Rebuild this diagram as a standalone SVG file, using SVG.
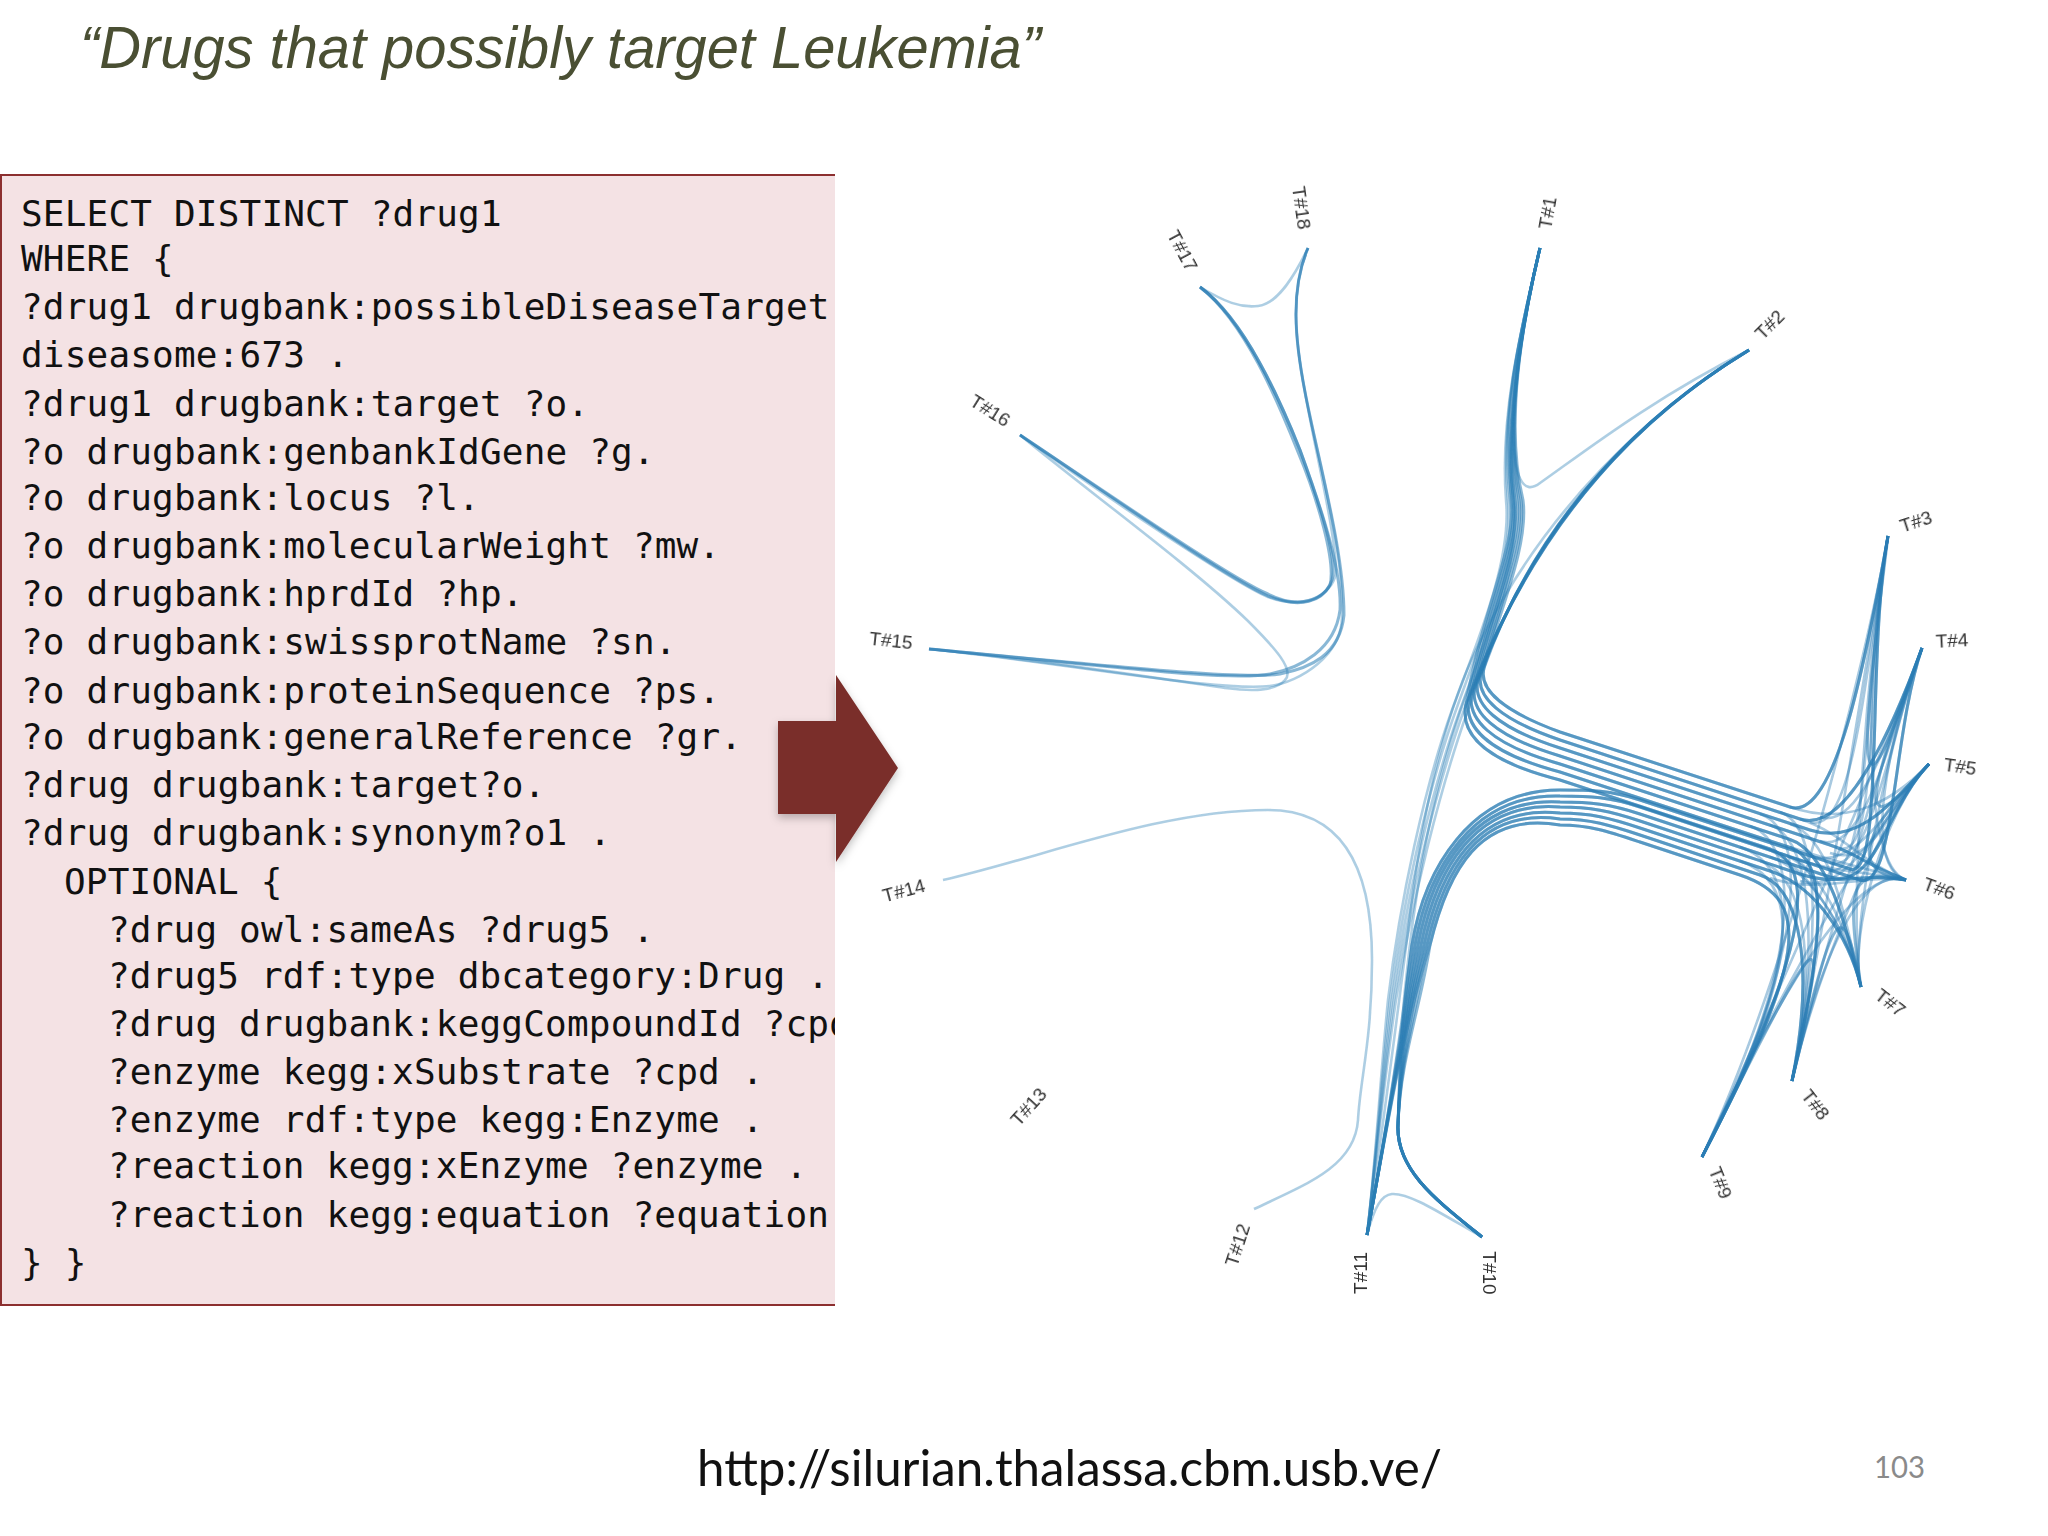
<svg xmlns="http://www.w3.org/2000/svg" width="2048" height="1536" viewBox="0 0 2048 1536">
<style>
text{font-family:"Liberation Sans",Arial,sans-serif}
.q{font-family:"DejaVu Sans Mono","Liberation Mono",monospace;font-size:36px;letter-spacing:.18px;fill:#111}
.lab{font-size:19px;fill:#333;text-anchor:middle}
.e{fill:none;stroke:#2b7db5;stroke-width:3;stroke-opacity:.55}
.l{fill:none;stroke:#2b7db5;stroke-width:2.6;stroke-opacity:.38}
.f{fill:none;stroke:#2b7db5;stroke-width:2.6;stroke-opacity:.42}
</style>
<defs>
<clipPath id="boxclip"><rect x="0" y="175" width="835" height="1130"/></clipPath>
<filter id="sh" x="-10%" y="-10%" width="130%" height="130%"><feDropShadow dx="0" dy="4" stdDeviation="4" flood-color="#000" flood-opacity=".25"/></filter>
<filter id="soft"><feGaussianBlur stdDeviation=".6"/></filter>
</defs>
<rect width="2048" height="1536" fill="#fff"/>
<text id="title" x="80" y="68" font-size="60" font-style="italic" fill="#4a4f33" textLength="961" lengthAdjust="spacingAndGlyphs">“Drugs that possibly target Leukemia”</text>
<g id="query">
<rect x="0" y="175" width="835" height="1130" fill="#f4e2e4"/>
<path d="M835,175H1V1305H835" fill="none" stroke="#8c2f2f" stroke-width="2"/>
<g clip-path="url(#boxclip)">
<text class="q" x="21" y="226">SELECT DISTINCT ?drug1</text>
<text class="q" x="21" y="271">WHERE {</text>
<text class="q" x="21" y="319">?drug1 drugbank:possibleDiseaseTarget</text>
<text class="q" x="21" y="367">diseasome:673 .</text>
<text class="q" x="21" y="416">?drug1 drugbank:target ?o.</text>
<text class="q" x="21" y="464">?o drugbank:genbankIdGene ?g.</text>
<text class="q" x="21" y="510">?o drugbank:locus ?l.</text>
<text class="q" x="21" y="558">?o drugbank:molecularWeight ?mw.</text>
<text class="q" x="21" y="606">?o drugbank:hprdId ?hp.</text>
<text class="q" x="21" y="654">?o drugbank:swissprotName ?sn.</text>
<text class="q" x="21" y="703">?o drugbank:proteinSequence ?ps.</text>
<text class="q" x="21" y="749">?o drugbank:generalReference ?gr.</text>
<text class="q" x="21" y="797">?drug drugbank:target?o.</text>
<text class="q" x="21" y="845">?drug drugbank:synonym?o1 .</text>
<text class="q" x="64" y="894">OPTIONAL {</text>
<text class="q" x="108" y="942">?drug owl:sameAs ?drug5 .</text>
<text class="q" x="108" y="988">?drug5 rdf:type dbcategory:Drug .</text>
<text class="q" x="108" y="1036">?drug drugbank:keggCompoundId ?cpd</text>
<text class="q" x="108" y="1084">?enzyme kegg:xSubstrate ?cpd .</text>
<text class="q" x="108" y="1132">?enzyme rdf:type kegg:Enzyme .</text>
<text class="q" x="108" y="1178">?reaction kegg:xEnzyme ?enzyme .</text>
<text class="q" x="108" y="1227">?reaction kegg:equation ?equation</text>
<text class="q" x="21" y="1275">} }</text>
</g>
</g>
<g id="arrow"><path d="M778,721H836V675L898,768L836,862V814H778Z" fill="#7a2f2c" filter="url(#sh)"/></g>
<g id="connectors" filter="url(#soft)">
<!-- T1 to upper band -->
<path class="e" d="M1540,248C1518,340 1506,430 1523,500C1529,545 1500,610 1484,668C1478,690 1505,712 1560,732L1790,807C1835,822 1866,660 1888,536"/>
<path class="e" d="M1540,248C1518,340 1506,430 1521,500C1527,545 1497,610 1481,674C1475,697 1501,720 1560,740L1800,819C1845,834 1890,735 1922,648"/>
<path class="e" d="M1540,248C1518,340 1506,430 1519,500C1525,545 1494,610 1478,680C1472,704 1497,728 1560,748L1810,830C1855,845 1885,810 1929,764"/>
<path class="e" d="M1540,248C1518,340 1506,430 1517,500C1523,545 1491,610 1475,686C1469,711 1493,736 1560,756L1830,845C1860,855 1860,862 1906,880"/>
<path class="e" d="M1540,248C1518,340 1506,430 1515,500C1521,545 1488,610 1472,692C1466,718 1489,744 1560,764L1790,839.500C1830,853 1848,935 1861,987"/>
<path class="e" d="M1540,248C1518,340 1506,430 1513,500C1519,545 1485,610 1469,698C1463,725 1485,752 1560,772L1790,847.500C1835,862 1818,960 1792,1081"/>
<path class="e" d="M1540,248C1518,340 1506,430 1511,500C1517,545 1482,610 1466,704C1460,732 1481,760 1560,780L1770,849C1820,866 1805,960 1702,1157"/>
<!-- T2 to upper band -->
<path class="e" d="M1749,350C1650,410 1540,510 1484,668C1478,690 1505,712 1560,732L1790,807C1835,822 1866,660 1888,536"/>
<path class="e" d="M1749,350C1650,410 1540,510 1481,674C1475,697 1501,720 1560,740L1800,819C1845,834 1890,735 1922,648"/>
<path class="e" d="M1749,350C1650,410 1540,510 1478,680C1472,704 1497,728 1560,748L1810,830C1855,845 1885,810 1929,764"/>
<path class="e" d="M1749,350C1650,410 1540,510 1475,686C1469,711 1493,736 1560,756L1830,845C1860,855 1860,862 1906,880"/>
<path class="e" d="M1749,350C1650,410 1540,510 1472,692C1466,718 1489,744 1560,764L1790,839.500C1830,853 1848,935 1861,987"/>
<path class="e" d="M1749,350C1650,410 1540,510 1469,698C1463,725 1485,752 1560,772L1790,847.500C1835,862 1818,960 1792,1081"/>
<path class="e" d="M1749,350C1650,410 1540,510 1466,704C1460,732 1481,760 1560,780L1770,849C1820,866 1805,960 1702,1157"/>
<!-- T11 to lower band -->
<path class="e" d="M1367,1235C1385,1140 1400,1040 1412,945C1424,870 1470,790 1560,790C1590,790 1610,790 1640,800L1850,869C1885,880 1866,660 1888,536"/>
<path class="e" d="M1367,1235C1385,1140 1400,1040 1415,945C1428,870 1472,793.500 1560,796C1590,796 1610,797 1640,807L1860,880C1895,891 1892,735 1922,648"/>
<path class="e" d="M1367,1235C1385,1140 1400,1040 1418,945C1432,870 1473,797 1560,802C1590,802 1610,804 1640,814L1830,877C1875,891 1885,810 1929,764"/>
<path class="e" d="M1367,1235C1385,1140 1400,1040 1421,945C1436,870 1475,800 1560,807C1590,807 1610,811 1640,821L1800,874C1840,887 1860,872 1906,880"/>
<path class="e" d="M1367,1235C1385,1140 1400,1040 1424,945C1440,870 1477,804 1560,813C1590,813 1610,818 1640,828L1770,871C1815,886 1848,935 1861,987"/>
<path class="e" d="M1367,1235C1385,1140 1400,1040 1427,945C1444,870 1479,807 1560,819C1590,819 1610,825 1640,835L1760,875C1800,888 1815,965 1792,1081"/>
<path class="e" d="M1367,1235C1385,1140 1400,1040 1430,945C1448,870 1480,811 1560,825C1590,825 1610,832 1640,842L1740,875C1815,900 1805,960 1702,1157"/>
<!-- T10 to lower band -->
<path class="e" d="M1482,1237C1436,1200 1396,1170 1398,1125C1400,1060 1402,1010 1412,945C1424,870 1470,790 1560,790C1590,790 1610,790 1640,800L1850,869C1885,880 1866,660 1888,536"/>
<path class="e" d="M1482,1237C1436,1200 1396,1170 1398,1125C1400,1060 1405,1010 1415,945C1428,870 1472,793.500 1560,796C1590,796 1610,797 1640,807L1860,880C1895,891 1892,735 1922,648"/>
<path class="e" d="M1482,1237C1436,1200 1396,1170 1398,1125C1400,1060 1408,1010 1418,945C1432,870 1473,797 1560,802C1590,802 1610,804 1640,814L1830,877C1875,891 1885,810 1929,764"/>
<path class="e" d="M1482,1237C1436,1200 1396,1170 1398,1125C1400,1060 1411,1010 1421,945C1436,870 1475,800 1560,807C1590,807 1610,811 1640,821L1800,874C1840,887 1860,872 1906,880"/>
<path class="e" d="M1482,1237C1436,1200 1396,1170 1398,1125C1400,1060 1414,1010 1424,945C1440,870 1477,804 1560,813C1590,813 1610,818 1640,828L1770,871C1815,886 1848,935 1861,987"/>
<path class="e" d="M1482,1237C1436,1200 1396,1170 1398,1125C1400,1060 1417,1010 1427,945C1444,870 1479,807 1560,819C1590,819 1610,825 1640,835L1760,875C1800,888 1815,965 1792,1081"/>
<path class="e" d="M1482,1237C1436,1200 1396,1170 1398,1125C1400,1060 1420,1010 1430,945C1448,870 1480,811 1560,825C1590,825 1610,832 1640,842L1740,875C1815,900 1805,960 1702,1157"/>
<!-- fan: further lines from the bands into each target -->
<path class="f" d="M1810,822C1855,837 1866,660 1888,536"/>
<path class="f" d="M1830,870C1870,883 1866,660 1888,536"/>
<path class="f" d="M1840,848C1880,861 1866,660 1888,536"/>
<path class="f" d="M1820,841C1865,856 1890,735 1922,648"/>
<path class="f" d="M1830,863C1870,876 1890,735 1922,648"/>
<path class="f" d="M1820,817C1860,830 1890,735 1922,648"/>
<path class="f" d="M1790,807C1840,824 1885,810 1929,764"/>
<path class="f" d="M1810,856C1855,871 1885,810 1929,764"/>
<path class="f" d="M1830,853C1875,868 1885,810 1929,764"/>
<path class="f" d="M1800,881C1850,898 1885,810 1929,764"/>
<path class="f" d="M1800,819C1845,834 1860,862 1906,880"/>
<path class="f" d="M1790,847C1840,864 1860,866 1906,880"/>
<path class="f" d="M1790,857C1840,874 1860,870 1906,880"/>
<path class="f" d="M1770,878C1820,895 1860,874 1906,880"/>
<path class="f" d="M1790,824C1835,839 1848,935 1861,987"/>
<path class="f" d="M1760,846C1810,863 1848,935 1861,987"/>
<path class="f" d="M1780,853C1825,868 1848,935 1861,987"/>
<path class="f" d="M1770,857C1815,872 1848,935 1861,987"/>
<path class="f" d="M1770,825C1815,840 1818,960 1792,1081"/>
<path class="f" d="M1760,861C1805,876 1818,960 1792,1081"/>
<path class="f" d="M1790,857C1835,872 1818,960 1792,1081"/>
<path class="f" d="M1780,812C1825,827 1818,960 1792,1081"/>
<path class="f" d="M1750,826C1800,843 1805,960 1702,1157"/>
<path class="f" d="M1740,861C1800,881 1805,960 1702,1157"/>
<path class="f" d="M1740,847C1800,867 1805,960 1702,1157"/>
<path class="f" d="M1760,814C1810,830 1805,960 1702,1157"/>
<!-- links across the fan -->
<path class="f" d="M1888,536C1866,660 1848,935 1861,987"/>
<path class="f" d="M1888,536C1866,660 1820,960 1792,1081"/>
<path class="f" d="M1888,536C1866,660 1790,970 1702,1157"/>
<path class="f" d="M1922,648C1890,735 1848,935 1861,987"/>
<path class="f" d="M1922,648C1890,735 1820,960 1792,1081"/>
<path class="f" d="M1922,648C1890,735 1790,970 1702,1157"/>
<path class="f" d="M1929,764C1885,810 1848,935 1861,987"/>
<path class="f" d="M1929,764C1885,810 1820,960 1792,1081"/>
<path class="f" d="M1929,764C1885,810 1790,970 1702,1157"/>
<path class="f" d="M1906,880C1860,865 1820,960 1792,1081"/>
<path class="f" d="M1906,880C1860,865 1790,970 1702,1157"/>
<path class="f" d="M1888,536C1866,660 1860,865 1906,880"/>
<path class="f" d="M1922,648C1890,735 1860,865 1906,880"/>
<!-- T1 to T11 -->
<path class="l" d="M1540,248C1518,340 1500,420 1506,500C1512,560 1478,640 1452,710C1425,785 1400,900 1388,1000C1380,1080 1375,1170 1367,1235"/>
<path class="l" d="M1540,248C1518,340 1500,420 1508,500C1514,560 1481,640 1456,710C1429,785 1403,900 1390,1000C1381,1080 1375,1170 1367,1235"/>
<path class="l" d="M1540,248C1518,340 1500,420 1510,500C1516,560 1485,640 1460,710C1433,785 1406,900 1392,1000C1382,1080 1375,1170 1367,1235"/>
<path class="l" d="M1540,248C1518,340 1500,420 1512,500C1518,560 1488,640 1464,710C1437,785 1409,900 1394,1000C1383,1080 1375,1170 1367,1235"/>
<path class="l" d="M1540,248C1518,340 1500,420 1514,500C1520,560 1492,640 1468,710C1441,785 1412,900 1396,1000C1384,1080 1375,1170 1367,1235"/>
<path class="l" d="M1749,350C1650,410 1545,510 1481,640C1460,680 1430,760 1412,900C1404,960 1390,1080 1367,1235"/>
<path class="l" d="M1482,1237C1436,1200 1396,1170 1398,1125C1400,1075 1400,1030 1406,980C1414,900 1430,800 1460,712C1485,640 1520,560 1514,500C1506,430 1518,340 1540,248"/>
<!-- neighbour arcs -->
<path class="l" d="M1540,248C1505,400 1505,510 1540,483C1580,455 1650,400 1749,350"/>
<path class="l" d="M1367,1235C1375,1205 1382,1195 1392,1194C1410,1193 1440,1213 1482,1237"/>
<path class="e" d="M1888,536C1860,760 1852,859 1922,648"/>
<path class="e" d="M1922,648C1860,812 1860,845 1929,764"/>
<path class="e" d="M1929,764C1868,826 1843,871 1906,880"/>
<path class="e" d="M1906,880C1850,868 1846,883 1861,987"/>
<path class="e" d="M1861,987C1842,890 1834,906 1792,1081"/>
<path class="e" d="M1792,1081C1830,908 1827,908 1702,1157"/>
<!-- T12 T14 -->
<path class="l" d="M943,880C1040,858 1160,810 1268,810C1330,810 1372,850 1372,960C1372,1040 1360,1080 1358,1120C1355,1165 1310,1183 1254,1209"/>
<!-- upper left group -->
<path class="l" d="M1200,287C1225,302 1240,308 1258,306C1278,304 1295,275 1308,248"/>
<path class="e" d="M1200,287C1245,320 1280,400 1300,450C1320,505 1338,560 1332,580C1325,600 1300,610 1268,594C1230,578 1110,495 1020,435"/>
<path class="e" d="M1200,287C1245,322 1278,402 1298,452C1318,500 1336,562 1330,585C1322,600 1302,610 1268,596C1222,575 1105,492 1020,435"/>
<path class="l" d="M1308,248C1290,290 1295,340 1305,392C1315,450 1335,530 1336,570C1336,590 1310,612 1268,597C1235,583 1110,500 1020,435"/>
<path class="l" d="M1020,435C1080,485 1190,565 1248,621C1275,648 1295,670 1285,680C1275,692 1250,691 1225,688C1170,680 1040,660 929,649"/>
<path class="e" d="M1200,287C1245,320 1280,400 1300,450C1322,510 1342,570 1340,610C1335,650 1300,668 1270,674C1230,682 1100,665 929,649"/>
<path class="e" d="M1308,248C1290,290 1295,340 1305,392C1318,460 1344,550 1344,615C1340,655 1310,668 1280,674C1240,680 1100,665 929,649"/>
<path class="l" d="M1308,248C1290,290 1295,340 1305,392C1318,460 1344,550 1342,615C1343,655 1300,682 1270,686C1220,692 1080,665 929,649"/>
</g>
<g id="t1"><text class="lab" filter="url(#soft)" transform="translate(1548,213) rotate(-80)" y="6">T#1</text></g>
<g id="t2"><text class="lab" filter="url(#soft)" transform="translate(1770,325) rotate(-45)" y="6">T#2</text></g>
<g id="t3"><text class="lab" filter="url(#soft)" transform="translate(1916,522) rotate(-18)" y="6">T#3</text></g>
<g id="t4"><text class="lab" filter="url(#soft)" transform="translate(1952,641) rotate(-3)" y="6">T#4</text></g>
<g id="t5"><text class="lab" filter="url(#soft)" transform="translate(1960,767) rotate(8)" y="6">T#5</text></g>
<g id="t6"><text class="lab" filter="url(#soft)" transform="translate(1939,889) rotate(20)" y="6">T#6</text></g>
<g id="t7"><text class="lab" filter="url(#soft)" transform="translate(1890,1003) rotate(38)" y="6">T#7</text></g>
<g id="t8"><text class="lab" filter="url(#soft)" transform="translate(1815,1105) rotate(52)" y="6">T#8</text></g>
<g id="t9"><text class="lab" filter="url(#soft)" transform="translate(1720,1183) rotate(68)" y="6">T#9</text></g>
<g id="t10"><text class="lab" filter="url(#soft)" transform="translate(1489,1273) rotate(90)" y="6">T#10</text></g>
<g id="t11"><text class="lab" filter="url(#soft)" transform="translate(1361,1273) rotate(-90)" y="6">T#11</text></g>
<g id="t12"><text class="lab" filter="url(#soft)" transform="translate(1238,1245) rotate(-72)" y="6">T#12</text></g>
<g id="t13"><text class="lab" filter="url(#soft)" transform="translate(1029,1107) rotate(-48)" y="6">T#13</text></g>
<g id="t14"><text class="lab" filter="url(#soft)" transform="translate(904,891) rotate(-15)" y="6">T#14</text></g>
<g id="t15"><text class="lab" filter="url(#soft)" transform="translate(891,641) rotate(6)" y="6">T#15</text></g>
<g id="t16"><text class="lab" filter="url(#soft)" transform="translate(990,411) rotate(32)" y="6">T#16</text></g>
<g id="t17"><text class="lab" filter="url(#soft)" transform="translate(1182,251) rotate(62)" y="6">T#17</text></g>
<g id="t18"><text class="lab" filter="url(#soft)" transform="translate(1301,208) rotate(82)" y="6">T#18</text></g>
<text id="url" x="697" y="1486" font-size="50" fill="#111" style="font-family:Lato,'Open Sans',sans-serif" textLength="745" lengthAdjust="spacingAndGlyphs">http://silurian.thalassa.cbm.usb.ve/</text>
<text id="page" x="1874" y="1478" font-size="31" fill="#8a8a8a" style="font-family:Lato,'Open Sans',sans-serif" textLength="51" lengthAdjust="spacingAndGlyphs">103</text>
</svg>
